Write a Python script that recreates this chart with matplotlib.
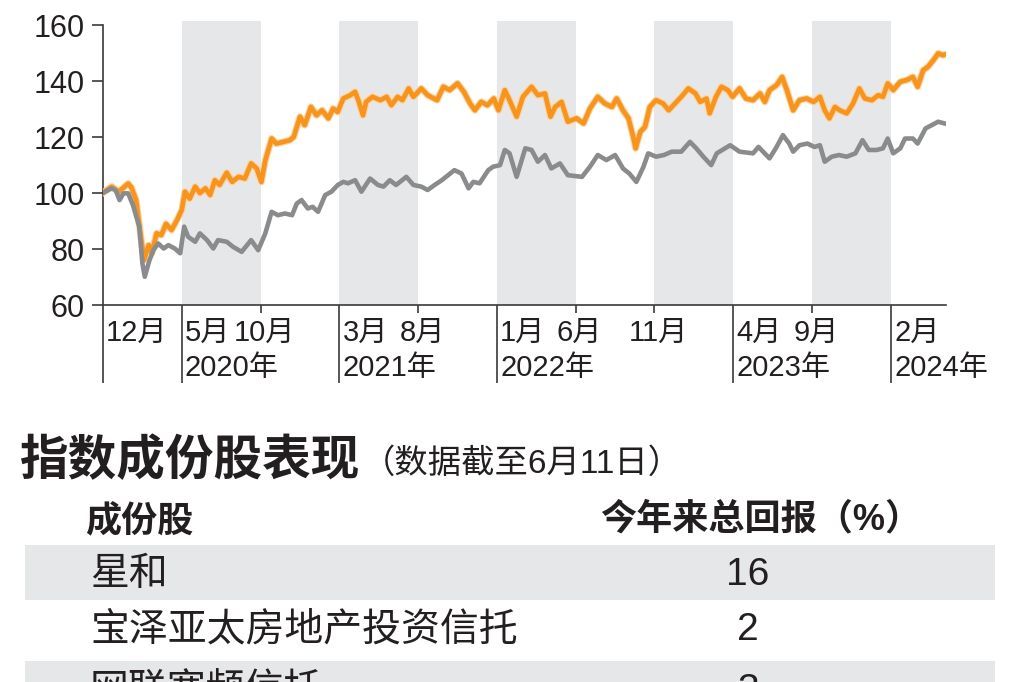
import numpy as np
import matplotlib
matplotlib.use('Agg')
import matplotlib.pyplot as plt
import matplotlib.patheffects as pe

plt.rcParams['font.family'] = ['Liberation Sans', 'Noto Sans CJK SC']

# months since Dec 2019
orange_x = [0, 0.55, 1.0, 1.6, 1.8, 2.1, 2.35, 2.6, 2.9, 3.1, 3.4, 3.7, 4.0, 4.35, 4.7, 5.0, 5.2, 5.5,
            5.85, 6.15, 6.5, 6.8, 7.1, 7.4, 7.85, 8.2, 8.6, 9.0, 9.4, 9.75, 10.05, 10.3, 10.7, 11.0,
            11.45, 11.85, 12.1, 12.5, 12.8, 13.2, 13.55, 13.9, 14.3, 14.6, 14.9, 15.25, 15.7, 16.0,
            16.2, 16.5, 16.7, 17.1, 17.6, 18.0, 18.3, 18.7, 19.0, 19.4, 19.7, 20.2, 20.6, 21.2, 21.6,
            22.0, 22.5, 22.9, 23.3, 23.6, 24.0, 24.4, 24.8, 25.1, 25.5, 25.8, 26.25, 26.65, 27.2,
            27.6, 28.05, 28.4, 28.7, 29.1, 29.5, 30.05, 30.5, 30.9, 31.4, 31.85, 32.3, 32.6, 33.0,
            33.35, 33.65, 33.8, 34.1, 34.4, 34.7, 35.1, 35.55, 35.9, 36.3, 36.7, 37.15, 37.6, 37.9,
            38.3, 38.5, 38.9, 39.25, 39.65, 39.95, 40.4, 40.8, 41.25, 41.7, 42.0, 42.3, 42.75, 43.1,
            43.4, 43.8, 44.2, 44.65, 45.1, 45.5, 45.8, 46.1, 46.45, 46.75, 47.2, 47.6, 48.0, 48.35,
            48.8, 49.2, 49.5, 49.8, 50.15, 50.6, 51.0, 51.4, 51.7, 52.05, 52.35, 52.7, 53.0, 53.3, 53.5]
orange_y = [100.1, 102.3, 100.5, 103.4, 102, 97.5, 86.8, 76, 81.4, 78.5, 85.6, 85, 89, 86.8, 90.4, 94,
            100.5, 98, 102.3, 100, 101.7, 99.3, 104.6, 102.9, 107.3, 104, 105.8, 105.2, 110.6, 108.8,
            104, 111.7, 119.5, 117.7, 118.3, 118.9, 120, 127.3, 124.3, 130.8, 127.8, 129.6, 126.7,
            130.2, 129, 133.8, 135, 136.2, 133.2, 127.8, 132.6, 134.4, 133.2, 134.4, 131.4, 134.4,
            133.2, 137.4, 134.4, 137.4, 135, 133.2, 138, 136.8, 139.2, 136.2, 132, 129.6, 132.6,
            131.4, 133.8, 129.6, 136.8, 133.2, 127.3, 134.4, 138, 135, 135.6, 127.3, 130.8, 132.6,
            125.5, 126.7, 124.9, 130.2, 134.4, 132, 130.8, 133.8, 129.6, 126.7, 120.1, 116, 121.9,
            123.7, 130.8, 133.2, 132, 129.6, 132, 134.4, 137.4, 135.6, 132.6, 133.8, 128.5, 134.4,
            138, 136.8, 134.4, 137.4, 133.8, 133.2, 135.6, 132.6, 136.8, 138.6, 141.5, 136.8, 129.6,
            133.2, 133.8, 132.6, 134.4, 129.6, 126.7, 130.8, 129.6, 128.5, 132, 137.4, 133.8, 133.2,
            135, 134.4, 139.2, 136.8, 139.8, 140.4, 141.5, 138, 143.9, 145.1, 147.5, 149.9, 149.3, 149.6]

gray_x = [0, 0.55, 0.8, 1.05, 1.3, 1.6, 1.9, 2.3, 2.5, 2.65, 2.95, 3.2, 3.5, 3.85, 4.15, 4.55, 4.9,
          5.15, 5.4, 5.85, 6.15, 6.6, 7.0, 7.3, 7.85, 8.25, 8.8, 9.4, 9.85, 10.3, 10.7, 11.1, 11.55,
          12.0, 12.3, 12.6, 13.0, 13.3, 13.65, 14.1, 14.5, 14.9, 15.25, 15.55, 16.0, 16.4, 16.95,
          17.45, 17.8, 18.2, 18.6, 19.25, 19.7, 20.2, 20.6, 21.05, 21.5, 21.9, 22.3, 22.75, 23.2,
          23.5, 23.9, 24.45, 24.75, 25.2, 25.5, 25.8, 26.25, 26.8, 27.2, 27.6, 28.05, 28.45, 29.0,
          29.5, 30.4, 30.9, 31.4, 31.95, 32.5, 33.0, 33.4, 33.85, 34.3, 34.6, 35.1, 35.6, 36.1,
          36.7, 37.25, 37.65, 38.1, 38.6, 38.95, 39.8, 40.4, 41.25, 41.6, 42.3, 42.75, 43.15, 43.55,
          43.8, 44.2, 44.7, 45.15, 45.5, 45.8, 46.25, 46.7, 47.2, 47.75, 48.2, 48.6, 49.1, 49.5,
          49.8, 50.15, 50.6, 50.9, 51.4, 51.7, 52.2, 52.6, 53.0, 53.4]
gray_y = [100.1, 101.7, 101, 97.5, 99.9, 99.9, 95.7, 88, 74.9, 70.1, 76, 79.6, 82, 80.2, 81.4, 80.2,
          78.5, 88, 84.4, 82.6, 85.6, 83.2, 80.2, 83.2, 82.6, 80.8, 79, 83.2, 79.6, 85.6, 93.3, 92.1,
          92.7, 92.1, 96.3, 97.5, 94.5, 95.1, 93.3, 99.3, 100.5, 102.9, 104, 103.5, 104.6, 100.5,
          105.2, 102.9, 102.3, 104.6, 102.9, 105.8, 102.9, 102.3, 101.1, 102.9, 104.6, 106.4, 108.2,
          107, 101.7, 104, 103.5, 108.2, 109.4, 110, 115.4, 114.2, 105.8, 116, 115.4, 111.2, 113.6,
          108.8, 110.6, 106.4, 105.8, 109.4, 113.6, 111.8, 113.6, 108.8, 107, 104, 109.4, 114.2,
          113, 113.6, 114.8, 114.8, 118.3, 116, 113, 110, 114.2, 117.1, 114.8, 114.2, 116.5, 112.4,
          116.5, 120.7, 117.7, 114.8, 117.1, 117.7, 116.5, 117.1, 111.2, 113, 113.6, 113, 114.2,
          118.9, 115.4, 115.4, 116, 119.5, 114.2, 116, 119.5, 119.5, 117.7, 123.1, 124.3, 125.5, 124.9]

yticks = [60, 80, 100, 120, 140, 160]
month_pos = [0, 5, 10, 15, 20, 25, 30, 35, 40, 45, 50]
month_labels = ['12月', '5月', '10月', '3月', '8月', '1月', '6月', '11月', '4月', '9月', '2月']
year_pos = [5, 15, 25, 40, 50]
year_labels = ['2020年', '2021年', '2022年', '2023年', '2024年']
band_starts = [5, 15, 25, 35, 45]

title = '指数成份股表现'
subtitle = '（数据截至6月11日）'
col_names = ['成份股', '今年来总回报（%）']
stocks = ['星和', '宝泽亚太房地产投资信托', '网联宽频信托']
returns = [16, 2, 3]

ink = '#231f20'
band = '#e6e7e9'

fig = plt.figure(figsize=(10.24, 6.82), dpi=100)
ax = fig.add_axes([103/1024, 1-305/682, 843/1024, 284/682])
ax.set_xlim(0, 53.5)
ax.set_ylim(60, 161.5)

for s in band_starts:
    ax.axvspan(s, s + 5, color=band, lw=0, zorder=0)

ax.plot(orange_x, orange_y, color='#f7941d', lw=3.4, solid_joinstyle='round', zorder=3,
        path_effects=[pe.Stroke(linewidth=5.0, foreground='#fcd3a0'), pe.Normal()])
ax.plot(gray_x, gray_y, color='#8a8b8d', lw=3.3, solid_joinstyle='round', zorder=4)

for sp in ['top', 'right']:
    ax.spines[sp].set_visible(False)
ax.spines['left'].set_bounds(60, 160)
for sp in ['left', 'bottom']:
    ax.spines[sp].set_color('#3a3a3a')
    ax.spines[sp].set_linewidth(1.2)

ax.set_yticks(yticks)
ax.set_yticklabels([str(v) for v in yticks], fontsize=22, color=ink)
ax.tick_params(axis='y', length=8, width=1.2, color='#3a3a3a', pad=5)

short = [p for p in month_pos if p not in year_pos and p != 0]
ax.set_xticks(short)
ax.set_xticklabels([])
ax.tick_params(axis='x', length=6, width=1.2, color='#3a3a3a')

trans = ax.get_xaxis_transform()
ax.vlines([0] + year_pos, -0.275, 0, transform=trans, color='#3a3a3a', lw=1.2, clip_on=False)

for p, lab in zip(month_pos, month_labels):
    if p == 0 or p in year_pos:
        ax.text(p + 0.2, -0.099, lab, transform=trans, ha='left', va='center', fontsize=21, color=ink)
    else:
        ax.text(p + 0.25, -0.099, lab, transform=trans, ha='center', va='center', fontsize=21, color=ink)
for p, lab in zip(year_pos, year_labels):
    ax.text(p + 0.2, -0.222, lab, transform=trans, ha='left', va='center', fontsize=21, color=ink)

# table part, in pixel coordinates
tab = fig.add_axes([0, 0, 1, 1], zorder=-1)
tab.set_xlim(0, 1024)
tab.set_ylim(682, 0)
tab.axis('off')

tab.text(20, 462, title, fontsize=35, fontweight='bold', ha='left', va='center', color=ink)
tab.text(362, 464, subtitle, fontsize=24, ha='left', va='center', color=ink)
tab.text(85, 522, col_names[0], fontsize=26, fontweight='bold', ha='left', va='center', color=ink)
tab.text(600, 520, col_names[1], fontsize=26, fontweight='bold', ha='left', va='center', color=ink)

row_top = [545, 600, 661]
row_h = [55, 61, 60]
for i, (name, val) in enumerate(zip(stocks, returns)):
    if i % 2 == 0:
        tab.add_patch(plt.Rectangle((25, row_top[i]), 970, row_h[i], color=band, lw=0))
    yc = row_top[i] + 30
    tab.text(90, yc, name, fontsize=28, ha='left', va='center', color=ink)
    tab.text(748, yc, str(val), fontsize=28, ha='center', va='center', color=ink)

fig.savefig('out.png', dpi=100)
